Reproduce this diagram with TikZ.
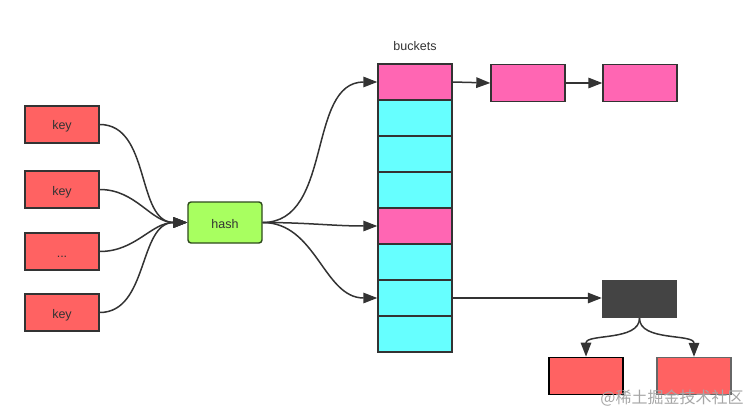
\documentclass[tikz,border=0pt]{standalone}
\usepackage{fontspec}
\setmainfont{Liberation Sans}
\newfontfamily\cjk{Noto Sans CJK SC}
\usetikzlibrary{arrows.meta}

\definecolor{keyred}{HTML}{FF6262}
\definecolor{bucketpink}{HTML}{FF66B3}
\definecolor{bucketcyan}{HTML}{66FFFF}
\definecolor{hashgreen}{HTML}{A8FF60}
\definecolor{hashline}{HTML}{2E4A1C}
\definecolor{treedark}{HTML}{444444}
\definecolor{edgegray}{HTML}{333333}

\tikzset{
  box/.style={draw=edgegray, line width=1.4pt, minimum width=74pt, minimum height=37pt,
    inner sep=0pt, font=\fontsize{12.5}{14}\selectfont, text=edgegray,
    text height=11pt, text depth=0pt},
  keybox/.style={box, fill=keyred},
  cellbox/.style={box, minimum height=36pt},
  link/.style={draw=edgegray, line width=1.5pt, -{Triangle[length=14pt,width=10.5pt]}}
}

\begin{document}
\begin{tikzpicture}[x=1pt, y=-1pt]
      \useasboundingbox (0,0) rectangle (756,420);
      % keys and hash
      \node[keybox] (k1) at (62, 124.5) {key};
      \node[keybox] (k2) at (62, 189.5) {key};
      \node[keybox] (k3) at (62, 251.5) {...};
      \node[keybox] (k4) at (62, 312.5) {key};
      \node[box, fill=hashgreen, draw=hashline, rounded corners=3pt, minimum height=41pt] (hash) at (225, 222.5) {hash};
      % buckets
      \node[font=\fontsize{12.5}{14}\selectfont, text=edgegray] (title) at (415, 46) {buckets};
      \foreach \i/\c in {1/bucketpink, 2/bucketcyan, 3/bucketcyan, 4/bucketcyan,
                         5/bucketpink, 6/bucketcyan, 7/bucketcyan, 8/bucketcyan}
        \node[cellbox, fill=\c] (b\i) at (415, 46 + 36*\i) {};
      % chain and tree
      \node[box, fill=bucketpink] (c1) at (528, 83) {};
      \node[box, fill=bucketpink] (c2) at (640, 83) {};
      \node[box, fill=treedark, draw=treedark] (tree) at (639.5, 299) {};
      \node[box, fill=keyred, draw=black, line width=1.8pt] (left) at (586, 376) {};
      \node[box, fill=keyred, draw=black!60] (right) at (694, 376) {};
      % connectors
      \foreach \k in {k1, k2, k3, k4}
        \draw[link] (\k.east) to[out=0, in=180] (hash.west);
      \draw[link] (hash.east) to[out=0, in=180] (b1.west);
      \draw[link] (hash.east) to[out=0, in=180] (b5.west);
      \draw[link] (hash.east) to[out=0, in=180] (b7.west);
      \draw[link] (b1.east) -- (c1.west);
      \draw[link] (c1.east) -- (c2.west);
      \draw[link] (b7.east) -- (b7.east -| tree.west);
      \draw[link] (tree.south) to[out=-90, in=90, looseness=0.9] (left.north);
      \draw[link] (tree.south) to[out=-90, in=90, looseness=0.9] (right.north);
      \node[font=\cjk\fontsize{16}{18}\selectfont, text=black!35] (mark) at (672, 398) {@稀土掘金技术社区};
    \end{tikzpicture}
\end{document}
